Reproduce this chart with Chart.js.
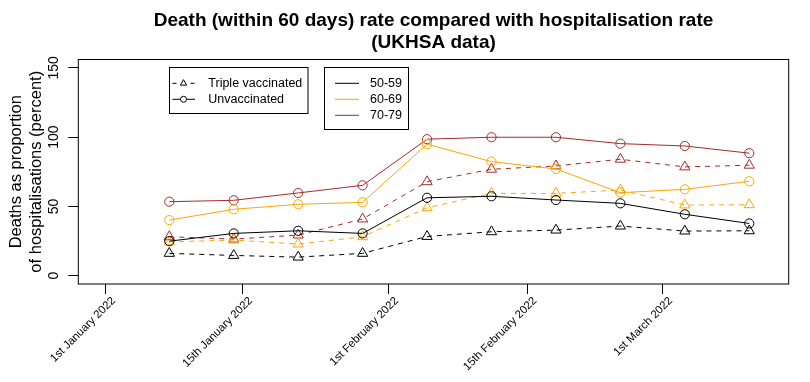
<!DOCTYPE html>
<html>
<head>
<meta charset="utf-8">
<script src="https://cdn.jsdelivr.net/npm/chart.js@4/dist/chart.umd.min.js"></script>
<style>
html,body{margin:0;padding:0;background:#fff;overflow:hidden;}
canvas{display:block;}
</style>
</head>
<body>
<canvas id="c" width="810" height="382"></canvas>
<script>
// ---- data ----
const weeks = [1, 2, 3, 4, 5, 6, 7, 8, 9, 10];
const unvac5059  = [24.9, 30.5, 32.4, 30.5, 56.2, 57.3, 54.6, 52.2, 44.3, 37.7];
const unvac6069  = [40.1, 47.9, 51.5, 52.9, 94.9, 82.3, 77.0, 59.9, 62.3, 68.1];
const unvac7079  = [53.4, 54.4, 59.7, 65.2, 98.5, 99.9, 99.9, 95.3, 93.6, 88.4];
const triple5059 = [16.1, 14.6, 13.4, 16.1, 28.3, 31.7, 32.9, 35.8, 32.2, 32.4];
const triple6069 = [24.4, 25.7, 22.8, 28.1, 49.0, 59.4, 59.4, 61.8, 51.0, 51.2];
const triple7079 = [28.1, 26.4, 29.3, 40.9, 67.8, 76.8, 79.2, 84.0, 78.5, 79.7];
const xTickAt     = [0.013, 2.139, 4.405, 6.551, 8.657];
const xTickLabels = ['1st January 2022', '15th January 2022', '1st February 2022', '15th February 2022', '1st March 2022'];
const yTicks      = [0, 50, 100, 150];
const ageGroups   = ['50-59', '60-69', '70-79'];
const statusNames = ['Triple vaccinated', 'Unvaccinated'];
const titleLines  = ['Death (within 60 days) rate compared with hospitalisation rate', '(UKHSA data)'];
const yTitleLines = ['Deaths as proportion', 'of hospitalisations (percent)'];

const COLS = ['#000000', '#FFA500', '#A52A2A'];
const FONT = '"Liberation Sans", Arial, Helvetica, sans-serif';

function pts(arr) { return weeks.map((w, i) => ({ x: w, y: arr[i] })); }
function ds(arr, col, triple) {
  return {
    data: pts(arr),
    borderColor: col,
    borderWidth: 1,
    borderDash: triple ? [5, 5] : [],
    pointStyle: triple ? 'triangle' : 'circle',
    pointRadius: triple ? 5.9 : 4.6,
    pointBorderColor: col,
    pointBackgroundColor: 'rgba(0,0,0,0)',
    pointBorderWidth: 1,
    tension: 0,
    fill: false
  };
}

const custom = {
  id: 'custom',
  afterDraw(chart) {
    const ctx = chart.ctx, a = chart.chartArea;
    const xs = chart.scales.x, ys = chart.scales.y;
    ctx.save();
    ctx.fillStyle = '#000';
    ctx.strokeStyle = '#000';
    ctx.lineWidth = 1;
    ctx.setLineDash([]);
    // plot box
    ctx.strokeRect(a.left, a.top, a.right - a.left, a.bottom - a.top);

    // title
    ctx.font = 'bold 19px ' + FONT;
    ctx.textAlign = 'center';
    ctx.textBaseline = 'alphabetic';
    const cx = (a.left + a.right) / 2;
    ctx.fillText(titleLines[0], cx, 26);
    ctx.fillText(titleLines[1], cx, 48);

    // y tick labels (rotated)
    ctx.font = '14px ' + FONT;
    yTicks.forEach(v => {
      const y = ys.getPixelForValue(v);
      ctx.save();
      ctx.translate(a.left - 20, y);
      ctx.rotate(-Math.PI / 2);
      ctx.textAlign = 'center';
      ctx.textBaseline = 'alphabetic';
      ctx.fillText(String(v), 0, 0);
      ctx.restore();
    });

    // y title
    ctx.font = '16.5px ' + FONT;
    const cy = (a.top + a.bottom) / 2;
    [[yTitleLines[0], 21], [yTitleLines[1], 41]].forEach(([t, x]) => {
      ctx.save();
      ctx.translate(x, cy);
      ctx.rotate(-Math.PI / 2);
      ctx.textAlign = 'center';
      ctx.textBaseline = 'alphabetic';
      ctx.fillText(t, 0, 0);
      ctx.restore();
    });

    // x tick labels rotated 45
    ctx.font = '11.3px ' + FONT;
    xTickAt.forEach((v, i) => {
      const x = xs.getPixelForValue(v);
      ctx.save();
      ctx.translate(x + 8, a.bottom + 15);
      ctx.rotate(-Math.PI / 4);
      ctx.textAlign = 'right';
      ctx.textBaseline = 'middle';
      ctx.fillText(xTickLabels[i], 0, 0);
      ctx.restore();
    });

    // legend 1
    ctx.font = '12.5px ' + FONT;
    ctx.textAlign = 'left';
    ctx.textBaseline = 'middle';
    ctx.strokeRect(169.5, 67.5, 138.5, 46);
    const rows = [83.3, 99.3, 115.3];
    ctx.setLineDash([4, 5]);
    ctx.beginPath(); ctx.moveTo(172.5, rows[0]); ctx.lineTo(195, rows[0]); ctx.stroke();
    ctx.setLineDash([]);
    ctx.fillStyle = '#fff';
    ctx.fillRect(179, rows[0] - 5, 9, 9);
    ctx.fillStyle = '#000';
    const tr = 3.6;
    ctx.beginPath();
    ctx.moveTo(183.5, rows[0] - tr);
    ctx.lineTo(183.5 + tr * 0.866, rows[0] + tr * 0.5);
    ctx.lineTo(183.5 - tr * 0.866, rows[0] + tr * 0.5);
    ctx.closePath(); ctx.stroke();
    ctx.fillText(statusNames[0], 208.3, rows[0]);
    ctx.beginPath(); ctx.moveTo(172.5, rows[1]); ctx.lineTo(195, rows[1]); ctx.stroke();
    ctx.fillStyle = '#fff';
    ctx.beginPath(); ctx.arc(183.5, rows[1], 3, 0, Math.PI * 2); ctx.fill();
    ctx.fillStyle = '#000';
    ctx.beginPath(); ctx.arc(183.5, rows[1], 3, 0, Math.PI * 2); ctx.stroke();
    ctx.fillText(statusNames[1], 208.3, rows[1]);

    // legend 2
    ctx.strokeStyle = '#000';
    ctx.strokeRect(324.5, 67.5, 84, 62);
    ageGroups.forEach((g, i) => {
      ctx.strokeStyle = COLS[i];
      ctx.beginPath(); ctx.moveTo(335, rows[i]); ctx.lineTo(359, rows[i]); ctx.stroke();
      ctx.fillStyle = '#000';
      ctx.fillText(g, 370, rows[i]);
    });
    ctx.restore();
  }
};

new Chart(document.getElementById('c').getContext('2d'), {
  type: 'line',
  data: {
    datasets: [
      ds(unvac5059, COLS[0], false),
      ds(unvac6069, COLS[1], false),
      ds(unvac7079, COLS[2], false),
      ds(triple5059, COLS[0], true),
      ds(triple6069, COLS[1], true),
      ds(triple7079, COLS[2], true)
    ]
  },
  options: {
    responsive: false,
    animation: false,
    devicePixelRatio: 1,
    layout: { padding: { top: 59.5, right: 21.3, left: 0, bottom: 0 } },
    plugins: { legend: { display: false }, title: { display: false }, tooltip: { enabled: false } },
    scales: {
      x: {
        type: 'linear', min: -0.412, max: 10.612,
        afterBuildTicks: s => { s.ticks = xTickAt.map(v => ({ value: v })); },
        ticks: { display: false },
        grid: { drawOnChartArea: false, drawTicks: true, tickLength: 10, color: '#000', lineWidth: 1 },
        border: { display: false },
        afterFit: s => { s.height = 98; }
      },
      y: {
        type: 'linear', min: -6, max: 156,
        afterBuildTicks: s => { s.ticks = yTicks.map(v => ({ value: v })); },
        ticks: { display: false },
        grid: { drawOnChartArea: false, drawTicks: true, tickLength: 10, color: '#000', lineWidth: 1 },
        border: { display: false },
        afterFit: s => { s.width = 78.3; }
      }
    }
  },
  plugins: [custom]
});
</script>
</body>
</html>
